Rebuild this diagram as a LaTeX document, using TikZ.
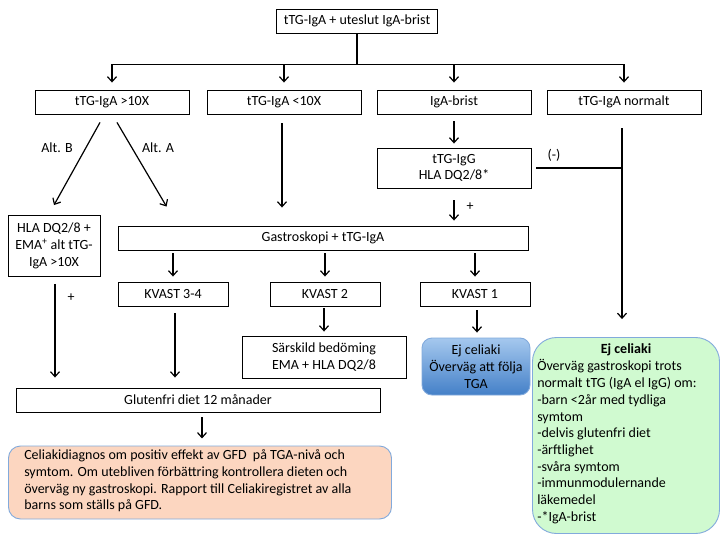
\documentclass[tikz,border=0pt]{standalone}
\usepackage{fontspec}
\setmainfont{Carlito}
\usetikzlibrary{arrows.meta,calc}
\definecolor{orangefill}{RGB}{252,214,192}
\definecolor{greenfill}{RGB}{208,250,208}
\definecolor{softblue}{RGB}{130,170,220}
\definecolor{bluetop}{RGB}{165,200,238}
\definecolor{bluebot}{RGB}{68,128,200}
\newcommand{\dfont}{\fontsize{14}{16.7}\selectfont}
\tikzset{
  box/.style={draw=black, line width=0.9pt, fill=white, inner sep=1pt, align=center,
    font=\dfont},
  arr/.style={line width=1.2pt, -{Straight Barb[length=5pt,width=9pt,line width=1.2pt]}},
  ln/.style={line width=1.2pt},
  lbl/.style={font=\dfont, inner sep=0pt},
  roundbox/.style={draw=softblue, line width=0.9pt, rounded corners=14pt,
    font=\dfont, inner sep=0pt},
}
\begin{document}
\begin{tikzpicture}[x=1pt,y=-1pt]
\useasboundingbox[fill=white] (0,0) rectangle (720,540);
% nodes
\node[box, minimum width=161pt, minimum height=24pt] (top) at (357,21) {tTG-IgA + uteslut IgA-brist};
\node[box, minimum width=154pt, minimum height=24pt] (b1) at (112,102) {tTG-IgA >10X};
\node[box, minimum width=154pt, minimum height=24pt] (b2) at (284,102) {tTG-IgA <10X};
\node[box, minimum width=154pt, minimum height=24pt] (b3) at (454,102) {IgA-brist};
\node[box, minimum width=154pt, minimum height=24pt] (b4) at (624,102) {tTG-IgA normalt};
\node[box, minimum width=154pt, minimum height=40pt] (igg) at (454,168) {tTG-IgG\\HLA DQ2/8*};
\node[box, minimum width=92pt, minimum height=61pt] (hla) at (54,246) {HLA DQ2/8 +\\EMA\textsuperscript{+} alt tTG-\\IgA >10X};
\node[box, minimum width=410pt, minimum height=24pt] (gastro) at (323,238) {Gastroskopi + tTG-IgA};
\node[box, minimum width=110pt, minimum height=24pt] (kv34) at (173,294) {KVAST 3-4};
\node[box, minimum width=110pt, minimum height=24pt] (kv2) at (325,294) {KVAST 2};
\node[box, minimum width=110pt, minimum height=24pt] (kv1) at (475,294) {KVAST 1};
\node[box, minimum width=164pt, minimum height=42pt] (sars) at (324,357) {Särskild bedöming\\EMA + HLA DQ2/8};
\node[roundbox, draw=softblue, top color=bluetop, bottom color=bluebot, rounded corners=10pt,
  minimum width=108pt, minimum height=57pt, align=center] (blue) at (476,366.5) {Ej celiaki\\Överväg att följa\\TGA};
\node[roundbox, fill=greenfill, rounded corners=24pt, minimum width=187pt, minimum height=196pt] (green) at (626,435.5) {};
\node[box, minimum width=364pt, minimum height=24pt] (glut) at (198,400) {Glutenfri diet 12 månader};
\node[roundbox, fill=orangefill, rounded corners=12pt, minimum width=383pt, minimum height=73pt] (orange) at (200,482.5) {};
% texts in rounded boxes
\node[lbl, anchor=north west, align=left] (otext) at ($(orange.north west)+(16,4)$)
  {Celiakidiagnos om positiv effekt av GFD \ på TGA-nivå och\\
   symtom. Om utebliven förbättring kontrollera dieten och\\
   överväg ny gastroskopi. Rapport till Celiakiregistret av alla\\
   barns som ställs på GFD.};
\node[lbl, anchor=north, font=\dfont\bfseries] (gtitle) at ($(green.north)+(0,6)$) {Ej celiaki};
\node[lbl, anchor=north west, align=left] (gtext) at ($(green.north west)+(5,22.5)$)
  {Överväg gastroskopi trots\\
   normalt tTG (IgA el IgG) om:\\
   -barn <2år med tydliga\\
   symtom\\
   -delvis glutenfri diet\\
   -ärftlighet\\
   -svåra symtom\\
   -immunmodulernande\\
   läkemedel\\
   -*IgA-brist};
% connectors top
\coordinate (busL) at ($(top.south)+(0,31)$);
\draw[ln] (top.south) -- (busL);
\draw[ln] (busL -| b1.north) -- (busL -| b4.north);
\foreach \n in {b1,b2,b3,b4} {
  \draw[arr] (busL -| \n.north) -- ($(\n.north)+(0,-7)$);
}
% tTG-IgA >10X
\draw[arr] ($(b1.south)+(-12,8)$) -- ($(hla.north)+(0,-10)$);
\draw[arr] ($(b1.south)+(5,8)$) -- ($(gastro.north west)+(49,-19)$);
\node[lbl] (altb) at (57,148) {Alt. B};
\node[lbl] (alta) at (158,148) {Alt. A};
% tTG-IgA <10X
\draw[arr] ($(b2.south)+(-2,9)$) -- ($(b2.south |- gastro.north)+(-2,-18)$);
% IgA-brist
\draw[arr] ($(b3.south)+(0,7)$) -- ($(igg.north)+(0,-4)$);
\draw[arr] ($(igg.south)+(0,12)$) -- ($(igg.south |- gastro.north)+(0,-5)$);
\node[lbl] (plus1) at (470,207) {+};
% tTG-IgA normalt
\coordinate (vtop) at ($(b4.south)+(-2,14)$);
\draw[arr] (vtop) -- ($(vtop |- green.north)+(0,-18)$);
\draw[ln] ($(igg.east)+(5,0)$) -- (igg.east -| vtop);
\node[lbl] (minus) at (554,155) {(-)};
% gastro -> KVAST
\foreach \n in {kv34,kv2,kv1} {
  \draw[arr] ($(gastro.south -| \n.north)+(0,3)$) -- ($(\n.north)+(0,-5)$);
}
% HLA -> glutenfri
\draw[arr] ($(hla.south)+(1,7)$) -- ($(hla.south |- glut.north)+(1,-10)$);
\node[lbl] (plus2) at (71,298) {+};
\draw[arr] ($(kv34.south)+(2,7)$) -- ($(kv34.south |- glut.north)+(2,-10)$);
\draw[arr] ($(kv2.south)+(-1,2)$) -- ($(sars.north)+(0,-4)$);
\draw[arr] ($(kv1.south)+(2,4)$) -- ($(blue.north)+(1,-5)$);
% glutenfri -> orange
\draw[arr] ($(glut.south)+(4,5)$) -- ($(glut.south)+(4,26)$);
\end{tikzpicture}
\end{document}
